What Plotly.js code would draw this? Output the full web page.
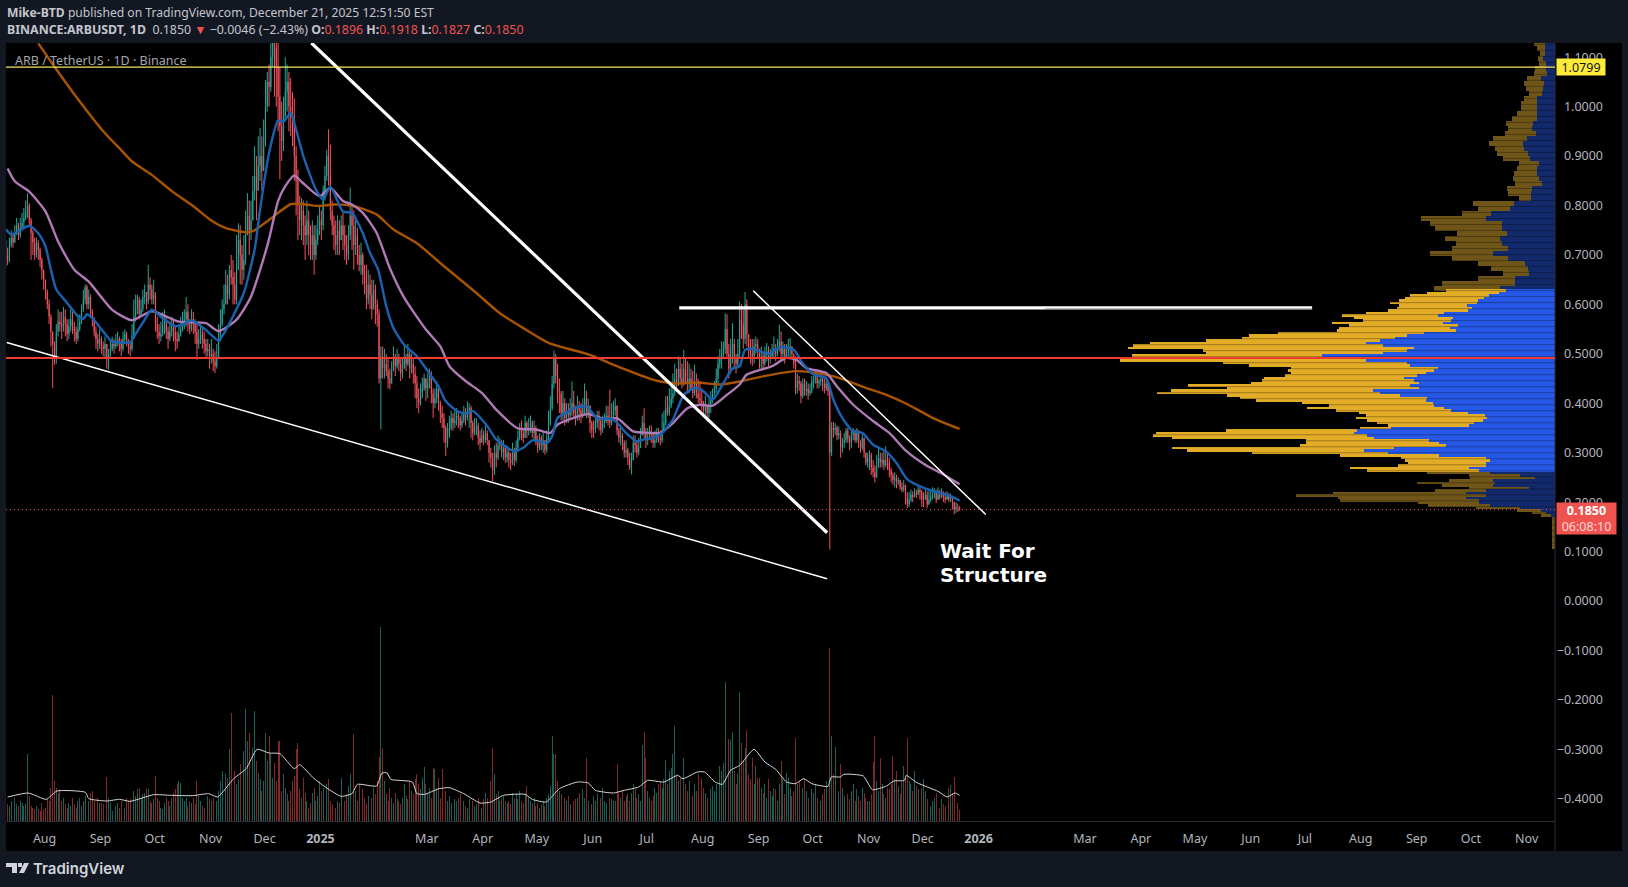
<!DOCTYPE html>
<html><head><meta charset="utf-8">
<script src="https://cdn.plot.ly/plotly-3.0.1.min.js"></script>
<style>html,body{margin:0;padding:0;background:#131722;overflow:hidden}#c{width:1628px;height:887px}</style>
</head><body><div id="c"></div>
<script>
// ---------- daily candles, Jul 10 2024 .. Dec 21 2025 (each open is the prior close)
const closes=[
.700,.690,.720,.735,.725,.745,.760,.740,.755,.765,.775,.785,.800,.770,.745,.725,.700,.725,.710,.690,.670,.650,
.625,.600,.575,.545,.520,.490,.545,.565,.560,.555,.575,.560,.540,.555,.570,.555,.545,.530,.550,.565,.590,.610,.635,.600,.615,.585,.570,.545,.530,.520,.530,
.515,.510,.520,.490,.500,.510,.520,.515,.525,.530,.520,.510,.530,.540,.525,.515,.510,.535,.575,.590,.610,.580,.590,.615,.625,.605,.640,.630,.610,.620,
.560,.545,.535,.540,.560,.565,.545,.530,.545,.555,.545,.530,.525,.540,.550,.565,.570,.585,.560,.550,.570,.565,.545,.520,.530,.540,.530,.520,.505,.510,.495,
.500,.485,.475,.490,.530,.560,.590,.600,.640,.620,.670,.655,.640,.610,.680,.730,.700,.670,.690,.740,.780,.750,.770,.830,.860,.830,.880,.900,.870,.920,
1.00,1.05,1.04,1.10,1.18,1.12,1.08,1.02,.960,.930,.980,1.03,1.05,1.00,.990,.970,.900,.850,.800,.770,.790,.760,.740,.770,.740,.720,.740,.700,.730,.750,.770,
.760,.830,.860,.900,.860,.790,.760,.740,.720,.750,.730,.760,.740,.720,.700,.740,.780,.760,.720,.740,.700,.680,.700,.660,.640,.610,.640,.620,.590,.630,.600,
.580,.450,.490,.470,.480,.465,.450,.440,.465,.490,.475,.490,.480,.460,.470,.490,.480,.500,.470,.480,.460,.440,.410,.400,.420,.430,.450,.430,
.440,.455,.420,.400,.410,.430,.400,.380,.370,.350,.320,.335,.350,.370,.360,.365,.375,.370,.355,.365,.380,.370,.385,.390,.360,.340,.350,.355,.330,.320,.335,
.325,.340,.325,.300,.290,.265,.300,.290,.315,.320,.300,.310,.290,.300,.285,.280,.300,.285,.310,.330,.345,.340,.330,.360,.345,.350,.360,.340,.350,.325,
.310,.330,.315,.325,.305,.330,.360,.390,.440,.490,.455,.420,.420,.380,.400,.370,.385,.375,.390,.400,.380,.370,.395,.385,.375,.390,.410,.380,.395,.360,.345,
.345,.360,.375,.365,.345,.360,.365,.375,.370,.360,.375,.385,.395,.345,.330,.335,.320,.300,.305,.290,.270,.285,.320,.315,.300,.310,.335,.360,.340,.325,
.330,.345,.335,.320,.325,.340,.330,.325,.345,.360,.390,.380,.395,.410,.420,.450,.440,.470,.450,.440,.470,.450,.440,.450,.430,.420,.440,.420,.410,.405,.400,
.385,.395,.380,.395,.410,.420,.430,.450,.480,.490,.500,.510,.550,.500,.470,.510,.520,.490,.480,.500,.570,.560,.530,.600,.540,.510,.500,.495,.515,.520,.510,
.490,.495,.480,.500,.505,.490,.495,.505,.510,.500,.515,.525,.500,.510,.495,.505,.510,.515,.500,.480,.430,.445,.440,.415,.440,.425,.430,.420,.425,.445,
.450,.460,.440,.445,.450,.440,.430,.440,.425,.300,.350,.345,.350,.335,.340,.310,.320,.325,.345,.330,.320,.335,.345,.325,.345,.320,.310,.330,.300,.280,.290,
.295,.270,.260,.250,.270,.290,.280,.285,.275,.285,.280,.265,.255,.245,.250,.240,.245,.230,.225,.235,.210,.195,.205,.215,.210,.220,.215,.225,.220,.205,
.205,.215,.195,.205,.210,.215,.220,.205,.215,.210,.220,.210,.205,.215,.205,.210,.200,.185,.190,.1896,.1850];
const highs=[
.730,.715,.735,.750,.745,.760,.775,.765,.775,.785,.795,.810,.825,.805,.775,.750,.735,.735,.730,.715,.695,.670,
.650,.630,.610,.580,.545,.525,.560,.590,.585,.585,.595,.590,.570,.570,.590,.585,.565,.555,.575,.580,.600,.630,.640,.640,.630,.620,.590,.575,.555,.540,.550,
.535,.525,.535,.520,.510,.530,.535,.530,.540,.545,.535,.530,.545,.550,.545,.530,.525,.560,.610,.620,.620,.615,.610,.630,.640,.625,.680,.655,.640,.650,
.625,.575,.560,.565,.585,.590,.575,.555,.565,.575,.570,.555,.545,.560,.575,.585,.590,.615,.600,.570,.590,.585,.570,.560,.550,.560,.555,.545,.530,.530,.520,
.530,.510,.505,.520,.560,.590,.610,.640,.670,.660,.680,.700,.690,.665,.740,.764,.760,.720,.740,.790,.825,.810,.810,.860,.920,.900,.940,.957,.940,.974,
1.054,1.07,1.085,1.16,1.25,1.25,1.20,1.22,1.08,1.01,1.02,1.10,1.085,1.07,1.058,1.03,1.017,.920,.873,.820,.815,.810,.780,.810,.790,.760,.770,.760,.760,.780,.800,
.790,.840,.880,.913,.954,.923,.810,.780,.770,.780,.770,.780,.785,.760,.740,.760,.836,.800,.790,.770,.755,.720,.725,.705,.680,.680,.670,.660,.650,.650,.640,
.610,.590,.515,.515,.510,.500,.490,.470,.485,.515,.500,.510,.500,.490,.490,.515,.500,.520,.505,.500,.490,.475,.455,.430,.440,.452,.460,.450,
.460,.470,.465,.430,.430,.445,.435,.405,.395,.380,.355,.360,.375,.385,.380,.385,.390,.385,.375,.380,.395,.390,.404,.400,.395,.365,.370,.370,.360,.345,.350,
.345,.355,.345,.325,.310,.300,.315,.320,.335,.330,.325,.325,.315,.315,.310,.300,.320,.310,.325,.345,.360,.365,.350,.375,.364,.370,.375,.365,.365,.355,
.335,.340,.335,.340,.325,.345,.385,.415,.455,.507,.500,.480,.450,.425,.425,.410,.400,.400,.410,.444,.425,.395,.415,.405,.400,.410,.440,.425,.410,.395,.365,
.365,.375,.385,.385,.370,.375,.380,.395,.395,.427,.400,.405,.410,.395,.350,.350,.340,.325,.325,.310,.300,.300,.335,.335,.325,.330,.350,.375,.390,.350,
.350,.355,.355,.340,.345,.350,.350,.345,.380,.385,.414,.415,.430,.440,.460,.480,.470,.495,.490,.480,.508,.490,.485,.480,.470,.465,.478,.460,.450,.445,.430,
.405,.415,.395,.410,.425,.430,.445,.470,.495,.510,.525,.525,.582,.580,.520,.530,.562,.530,.500,.530,.606,.600,.590,.625,.610,.540,.530,.530,.530,.535,.530,
.510,.515,.505,.515,.522,.515,.510,.520,.535,.520,.530,.559,.545,.525,.520,.520,.530,.532,.515,.500,.495,.460,.455,.445,.450,.450,.445,.440,.440,.455,
.455,.465,.460,.450,.462,.455,.450,.450,.440,.434,.362,.362,.360,.355,.353,.345,.330,.340,.350,.350,.335,.345,.350,.340,.350,.340,.325,.340,.330,.300,.300,
.305,.300,.285,.275,.295,.313,.300,.300,.305,.313,.300,.290,.270,.260,.260,.255,.250,.245,.240,.245,.235,.220,.220,.225,.222,.228,.225,.232,.230,.225,
.220,.225,.222,.222,.225,.230,.228,.225,.230,.225,.228,.222,.220,.222,.218,.218,.212,.200,.200,.197,.1918];
const lows=[
.675,.680,.685,.715,.715,.725,.740,.730,.735,.750,.755,.770,.775,.760,.690,.700,.690,.695,.690,.675,.650,.630,
.610,.590,.560,.515,.431,.478,.480,.535,.545,.530,.545,.535,.525,.530,.545,.540,.525,.520,.525,.545,.560,.585,.600,.590,.590,.575,.555,.535,.510,.505,.510,
.500,.495,.490,.470,.468,.490,.505,.500,.510,.515,.505,.495,.505,.525,.515,.500,.495,.505,.530,.565,.580,.570,.575,.585,.600,.590,.600,.610,.600,.600,
.545,.530,.520,.525,.535,.540,.530,.510,.525,.535,.525,.505,.510,.525,.535,.545,.550,.555,.545,.540,.545,.540,.520,.488,.510,.520,.510,.500,.490,.495,.470,
.480,.465,.461,.470,.490,.525,.555,.580,.600,.600,.610,.640,.600,.600,.600,.670,.640,.640,.650,.680,.740,.700,.730,.770,.810,.770,.830,.850,.830,.870,
.950,.990,1.00,1.03,1.08,1.02,1.00,.950,.853,.890,.910,.970,.990,.950,.940,.920,.850,.780,.730,.740,.730,.720,.690,.720,.700,.690,.690,.660,.690,.720,.740,
.730,.750,.810,.850,.840,.770,.740,.710,.700,.700,.700,.730,.710,.690,.680,.690,.730,.710,.670,.700,.680,.667,.660,.640,.620,.590,.600,.590,.570,.590,.560,
.555,.440,.347,.450,.450,.455,.430,.428,.440,.465,.455,.470,.465,.445,.450,.470,.465,.475,.450,.460,.440,.410,.390,.380,.395,.410,.425,.405,
.410,.430,.400,.370,.390,.400,.385,.360,.350,.320,.293,.310,.330,.345,.345,.350,.355,.350,.345,.350,.360,.355,.365,.350,.330,.325,.335,.335,.315,.305,.320,
.315,.320,.315,.280,.270,.242,.255,.270,.285,.305,.290,.285,.280,.280,.270,.265,.275,.273,.280,.305,.325,.325,.320,.330,.330,.335,.340,.330,.325,.315,
.300,.305,.305,.300,.296,.300,.325,.355,.385,.430,.440,.400,.380,.365,.365,.355,.360,.360,.370,.375,.370,.355,.365,.365,.360,.370,.375,.370,.370,.340,.330,
.330,.340,.350,.345,.335,.340,.350,.360,.355,.350,.355,.370,.375,.335,.320,.315,.305,.290,.290,.275,.265,.256,.285,.300,.290,.295,.310,.335,.330,.310,
.315,.325,.320,.310,.310,.320,.320,.315,.320,.340,.355,.375,.375,.390,.400,.415,.425,.435,.440,.430,.435,.440,.420,.420,.425,.410,.415,.410,.400,.395,.385,
.380,.375,.363,.370,.380,.400,.415,.420,.440,.470,.470,.490,.500,.490,.450,.460,.480,.470,.460,.470,.490,.530,.510,.520,.515,.490,.480,.475,.480,.500,.490,
.470,.470,.470,.475,.485,.475,.480,.490,.490,.485,.495,.505,.490,.485,.480,.490,.495,.490,.490,.470,.418,.420,.425,.400,.410,.415,.415,.407,.415,.420,
.430,.440,.430,.430,.435,.425,.420,.425,.415,.104,.293,.330,.335,.325,.327,.290,.300,.310,.320,.320,.305,.310,.325,.320,.320,.310,.300,.305,.290,.275,.270,
.265,.255,.250,.240,.250,.270,.270,.270,.265,.270,.265,.250,.240,.235,.230,.228,.235,.225,.220,.220,.195,.188,.190,.200,.200,.210,.208,.215,.205,.190,
.190,.205,.188,.195,.200,.205,.208,.198,.205,.205,.208,.200,.198,.205,.200,.200,.185,.175,.178,.180,.1827];
const volumes=[
40,50,45,60,55,70,50,45,60,55,45,50,202,75,45,40,35,45,35,30,55,35,
40,65,60,100,379,120,100,85,95,60,70,50,40,55,45,70,50,40,60,70,45,60,75,55,60,85,90,60,50,70,55,
55,50,60,132,70,55,30,35,45,55,40,60,55,40,70,60,65,80,90,75,95,100,70,80,85,100,95,60,55,65,
135,70,60,40,35,55,70,60,45,70,85,95,110,120,115,70,60,70,45,60,55,70,50,120,75,60,45,40,55,75,65,
60,70,50,60,90,120,150,125,140,130,215,325,259,150,110,125,170,195,210,337,240,264,160,220,330,180,145,125,90,120,
264,180,255,200,130,175,120,241,241,90,140,100,80,60,90,120,135,217,234,95,70,130,85,60,40,55,85,100,60,75,120,
90,100,70,110,125,60,50,75,40,60,55,130,80,60,80,105,140,279,262,90,60,110,80,95,70,50,75,147,70,100,80,
120,192,582,219,120,80,60,100,70,55,85,65,60,50,70,110,75,65,120,90,80,125,140,110,95,130,162,110,
85,100,70,160,157,100,130,70,157,85,90,60,75,55,45,65,60,70,80,50,60,45,40,65,30,60,45,50,70,55,40,
65,85,70,100,120,219,142,80,90,60,65,75,60,55,60,50,85,70,80,65,90,60,55,85,105,75,60,50,70,45,
55,40,50,60,45,70,80,105,255,202,202,120,90,80,110,70,60,75,50,80,60,65,70,85,60,95,70,189,60,70,50,
75,60,80,65,70,100,60,55,45,70,65,60,60,172,85,70,90,60,75,80,60,85,110,95,70,80,60,229,267,189,
90,70,60,75,100,85,110,120,100,125,184,110,150,160,202,285,140,120,130,199,190,110,90,120,100,75,110,90,140,172,130,
100,85,70,60,95,105,90,110,140,165,150,175,417,334,247,244,267,150,110,140,387,235,180,219,274,140,125,189,110,165,130,
130,100,85,110,70,125,90,75,100,95,60,110,180,125,80,145,130,100,75,90,250,110,120,297,100,130,90,70,60,95,
85,110,70,100,60,80,95,120,90,519,256,140,222,120,90,170,100,75,110,80,65,90,110,60,95,75,60,100,85,70,60,
60,80,177,254,120,90,190,110,80,70,100,95,110,195,125,150,105,80,120,165,130,250,120,110,90,150,105,95,85,100,
127,90,65,75,45,60,70,85,55,40,65,50,45,60,100,109,85,132,70,55,34];

// ---------- moving averages: candle index / value
const fastIdx=[0,3,7,13,18,22,25,28,34,40,43,45,48,54,59,69,73,77,81,87,94,98,103,106,112,118,122,126,132,138,141,146,151,154,158,160,165,172,176,180,187,192,198,202,206.5,211,215,221,228,234,240,244,250,255,259,267,272,282,287,292,300,303,306,311,316,322,328,337,344,350,354,359,364,370,376,382,387,392,398,403,407,410,414,423,430,437,442,448,455,459,464,470,475,481,488,494,500,509,518,524,529];
const fastVal=[.752,.741,.748,.759,.744,.717,.670,.630,.603,.576,.571,.580,.572,.545,.525,.524,.546,.569,.589,.572,.556,.559,.568,.562,.545,.527,.548,.576,.623,.711,.792,.906,.972,.970,.987,.967,.900,.832,.812,.838,.788,.785,.744,.704,.670,.596,.552,.518,.495,.465,.434,.404,.385,.379,.384,.354,.327,.303,.310,.325,.320,.333,.370,.381,.391,.394,.370,.367,.340,.323,.327,.330,.340,.367,.417,.431,.424,.407,.441,.470,.475,.508,.510,.500,.514,.508,.481,.458,.451,.407,.370,.343,.340,.316,.303,.279,.246,.229,.219,.212,.203];
const midIdx=[1,5,13,22,29,38,46,59,70,81,96,111,118,128,136,145.5,151,155,160,164,174,180,187,192,198,205.6,213,221,233,241,246,255,264,272,284,294,302,306,313,323,333,339,348,357,363,370,378,385,392,400,407,411,425,433,438.5,444,455,461,470,481,490,499.5,511,520,529];
const midVal=[.875,.849,.828,.788,.727,.670,.646,.589,.568,.586,.565,.562,.546,.569,.616,.725,.809,.839,.861,.848,.819,.836,.809,.802,.785,.745,.673,.613,.549,.515,.475,.445,.421,.387,.349,.347,.340,.357,.368,.378,.367,.370,.343,.340,.340,.360,.390,.397,.395,.417,.438,.458,.475,.492,.488,.471,.461,.434,.397,.364,.340,.303,.273,.256,.236];
const slowIdx=[18,27.5,39,55,64,70,81,92.4,103.5,114.6,122,133,137,146.4,158.4,174,181.5,192.6,205.6,214.8,227.8,244.4,261,274,287,301.7,323.9,336.8,357,363,372,383,396,407,422,438.5,451.4,462.5,477,488.4,499.5,514.3,529];
const slowVal=[1.128,1.078,1.020,.946,.912,.889,.862,.828,.800,.768,.754,.746,.748,.772,.803,.799,.802,.799,.782,.752,.724,.673,.623,.582,.552,.521,.498,.478,.450,.444,.440,.442,.438,.444,.456,.465,.460,.451,.431,.417,.399,.370,.348];
const volAvgIdx=[1,12.5,22.4,28.4,44.2,46,56,63,69,82,91.7,103.6,112.5,117.5,126.4,133.3,139.3,146,152,160,163,171,178,186,192,195,205.6,208.6,211.5,213.5,225.4,228,232.3,240.3,246,254,263,269,276,288,292,299.7,307,317,323,327,337,343,351,356,365,372.6,375.6,383.5,387.5,393.4,397.4,402,407,415,421,427,433,438,442.5,447,456,457.8,462.8,464.7,475.6,480.6,488.5,492.5,498.4,499.4,505.3,517,522,526.5,529];
const volAvgVal=[72,84,65,90,86,67,60,65,59,79,77,76,82,72,127,157,215,204,202,157,169,127,99,74,82,110,105,144,144,125,117,82,80,97,100,82,54,57,77,80,65,57,97,117,114,92,84,92,102,122,117,137,127,147,147,117,110,152,167,215,177,155,117,112,127,112,104,132,132,140,135,94,105,120,122,137,115,89,72,84,77];

// ---------- volume profile: up / down volume per row, from the top of the chart to the bottom
const profTopUp=[30,30,30,34,27,27,24,42,32,34,37,52,54,54,54,52,64,67,57,82,94,90,80,74,47,54,52,47,37,67,72,72,122,132,187,204,157,157,142,162,157,137,182,137,87,80,77,117,117,162];
const profTopDown=[32,22,14,16,20,33,38,40,60,50,40,40,46,46,58,75,81,70,90,100,100,87,90,78,60,58,68,77,80,73,65,35,120,95,85,190,210,195,145,160,135,165,185,165,140,107,75,110,215,195];
const profMidUp=[145,165,195,210,225,230,260,245,255,325,345,300,305,330,285,310,290,385,435,470,515,555,505,415,435,505,685,590,555,435,425,345,355,380,405,445,415,400,425,400,535,515,455,375,380,360,355,325,305,255,205,200,212,237,252,482,582,592,552,532,370,342,320,472,562,492,342,202,192,202,202,252,222];
const profMidDown=[175,210,230,230,235,255,200,220,235,230,280,290,260,325,320,325,350,430,465,450,510,635,735,840,600,520,560,715,725,540,475,430,430,395,390,410,445,495,655,565,595,655,510,550,500,385,310,405,340,320,350,385,340,285,240,90,385,580,630,595,362,390,430,655,520,400,290,250,250,230,260,350,330];
const profLowUp=[192,102,60,182,177,182,77,202,262,202,262,222,222,192,102,42,27,12,0,0,0,0,0,0,0,0,0,0,0,0,0];
const profLowDown=[185,150,190,130,230,150,175,150,390,560,375,410,180,180,130,70,40,30,10,10,10,10,10,10,10,10,10,10,10,10,10];
const profTopFirst=1.128, profTopStep=0.0101, profMidFirst=0.6277, profRowStep=0.00505;

// ---------- drawings
const thickTrendDates=['2024-12-27','2025-10-09'], thickTrendPrices=[1.1287,.138];
const lowTrendDates=['2024-07-11','2025-10-09'], lowTrendPrices=[.523,.045];
const upperTrendDates=['2025-08-29','2026-01-05'], upperTrendPrices=[.6276,.175];
const levelDates=['2025-07-19','2026-07-05'], levelPrices=[.593,.593];
const redLevel=.4915, yellowLevel=1.0799, lastPrice=.1850;

const priceTicks=[1.1,1,.9,.8,.7,.6,.5,.4,.3,.2,.1,0,-.1,-.2,-.3,-.4];
const timeTickDates=['2024-08-01','2024-09-01','2024-10-01','2024-11-01','2024-12-01','2025-01-01','2025-03-01','2025-04-01','2025-05-01','2025-06-01','2025-07-01','2025-08-01','2025-09-01','2025-10-01','2025-11-01','2025-12-01','2026-01-01','2026-03-01','2026-04-01','2026-05-01','2026-06-01','2026-07-01','2026-08-01','2026-09-01','2026-10-01','2026-11-01'];
const timeTickLabels=['Aug','Sep','Oct','Nov','Dec','<b>2025</b>','Mar','Apr','May','Jun','Jul','Aug','Sep','Oct','Nov','Dec','<b>2026</b>','Mar','Apr','May','Jun','Jul','Aug','Sep','Oct','Nov'];

// ---------- derived
const firstDay=Date.UTC(2024,6,10,12), DAY=864e5;
const iso=ms=>new Date(ms).toISOString().slice(0,19).replace('T',' ');
const dateAt=i=>iso(firstDay+i*DAY);
const dates=closes.map((_,i)=>dateAt(i));
const opens=closes.map((c,i)=>i?closes[i-1]:c);
const volColors=closes.map((c,i)=>c>=opens[i]?'#17615a':'#7f2a29');
const rows=(n,first,step)=>Array.from({length:n},(_,i)=>first-i*step);
const W=1606, H=778, PLOT_R=1555;
const px=x=>(x-6)/W, py=y=>1-(y-43)/H;
const dom=[0,px(PLOT_R)];

const topY=rows(profTopUp.length,profTopFirst,profTopStep);
const midY=rows(profMidUp.length,profMidFirst,profRowStep);
const lowY=rows(profLowUp.length,profMidFirst-profMidUp.length*profRowStep,profRowStep);
const bar=(x,y,color,width)=>({type:'bar',orientation:'h',x,y,width,xaxis:'x2',yaxis:'y',marker:{color,line:{width:0}},hoverinfo:'skip'});
const line=(xs,ys,color,width)=>({type:'scatter',mode:'lines',x:xs,y:ys,line:{color,width,simplify:false},hoverinfo:'skip'});
const avg=(xs,ys,color,width)=>({type:'scatter',mode:'lines',x:xs,y:ys,line:{color,width,shape:'spline',smoothing:.6,simplify:false},hoverinfo:'skip'});
const stripeX=[],stripeY=[];
for(let v=1.126;v>.11;v-=.01215){stripeX.push(0,1500,null);stripeY.push(v,v,null);}

const traces=[
 {type:'candlestick',x:dates,open:opens,high:highs,low:lows,close:closes,whiskerwidth:0,
  increasing:{line:{color:'#26a69a',width:1},fillcolor:'#26a69a'},
  decreasing:{line:{color:'#f7525f',width:1},fillcolor:'#f7525f'},hoverinfo:'skip'},
 avg(slowIdx.map(dateAt),slowVal,'#a85400',2.4),
 avg(midIdx.map(dateAt),midVal,'#b07ab5',2.4),
 avg(fastIdx.map(dateAt),fastVal,'#1a62b0',2.4),
 line(thickTrendDates,thickTrendPrices,'#ffffff',3.2),
 line(lowTrendDates,lowTrendPrices,'#ffffff',1.5),
 line(upperTrendDates,upperTrendPrices,'#ffffff',1.5),
 line(levelDates,levelPrices,'#ffffff',3.2),
 {type:'bar',x:dates,y:volumes,yaxis:'y2',width:DAY*.5,marker:{color:volColors,line:{width:0}},hoverinfo:'skip'},
 {type:'scatter',mode:'lines',x:volAvgIdx.map(dateAt),y:volAvgVal,yaxis:'y2',line:{color:'#d6d6d6',width:1,shape:'spline',smoothing:.5},hoverinfo:'skip'},
 bar(profTopUp,topY,'#12296c',profTopStep),
 bar(profTopDown,topY,'#6f5618',profTopStep),
 bar(profMidUp,midY,'#2558e6',profRowStep),
 bar(profMidDown,midY,'#e3ac27',profRowStep),
 bar(profLowUp,lowY,'#12296c',profRowStep),
 bar(profLowDown,lowY,'#6f5618',profRowStep),
 {type:'scatter',mode:'lines',x:stripeX,y:stripeY,xaxis:'x2',yaxis:'y',line:{color:'rgba(0,0,0,.3)',width:1},hoverinfo:'skip'}
];

const hdr={family:'"Noto Sans",sans-serif',size:12.15,color:'#c3c6ce'};
const hdr2={family:'"Noto Sans",sans-serif',size:12.37,color:'#c3c6ce'};
const note=(text,x,y,font,extra)=>Object.assign({text,x:px(x),y:py(y),xref:'paper',yref:'paper',xanchor:'left',yanchor:'middle',showarrow:false,font,align:'left'},extra||{});
const red='#ef5350';
const annotations=[
 note('<b>Mike-BTD</b> published on TradingView.com, December 21, 2025 12:51:50 EST',4.5,12.5,hdr),
 note(`<b>BINANCE:ARBUSDT, 1D</b>  0.1850 <span style="color:${red}">▼</span> −0.0046 (−2.43%) <b>O:</b><span style="color:${red}">0.1896</span> <b>H:</b><span style="color:${red}">0.1918</span> <b>L:</b><span style="color:${red}">0.1827</span> <b>C:</b><span style="color:${red}">0.1850</span>`,4.5,30,hdr2),
 note('ARB / TetherUS · 1D · Binance',13,60.5,{family:'"Noto Sans",sans-serif',size:12.5,color:'#a3a6af'}),
 note('<b>Wait For</b>',938,551,{family:'"DejaVu Sans",sans-serif',size:20,color:'#ffffff'}),
 note('<b>Structure</b>',938,575,{family:'"DejaVu Sans",sans-serif',size:20,color:'#ffffff'}),
 note('TradingView',31,868,{family:'"Inter",sans-serif',size:15,weight:600,color:'#d1d4dc'}),
 {text:'1.0799',xref:'paper',yref:'y',x:dom[1],y:yellowLevel,xshift:1,xanchor:'left',yanchor:'middle',showarrow:false,bgcolor:'#fdeb3b',width:48,height:16,borderpad:0,font:{family:'"Noto Sans",sans-serif',size:12.5,color:'#131722'}},
 {text:'<b>0.1850</b><br><span style="color:#ffd6d4">06:08:10</span>',xref:'paper',yref:'y',x:dom[1],y:lastPrice,xshift:1,yshift:8,xanchor:'left',yanchor:'top',showarrow:false,bgcolor:'#ef5350',width:59,height:31,borderpad:0,font:{family:'"Noto Sans",sans-serif',size:12.5,color:'#ffffff'}}
];
const P=(x,y)=>px(x).toFixed(5)+','+py(y).toFixed(5);
const logo=pts=>({type:'path',xref:'paper',yref:'paper',layer:'above',fillcolor:'#d1d4dc',line:{width:0},path:'M'+pts.map(p=>P(p[0],p[1])).join(' L')+' Z'});
const shapes=[
 {type:'rect',xref:'paper',yref:'paper',x0:dom[1],x1:px(1622),y0:py(43),y1:py(851),fillcolor:'#000',line:{width:0},layer:'below'},
 {type:'rect',xref:'paper',yref:'paper',x0:0,x1:px(1622),y0:py(821),y1:py(851),fillcolor:'#000',line:{width:0},layer:'below'},
 {type:'line',xref:'paper',yref:'paper',x0:dom[1],x1:dom[1],y0:py(43),y1:py(851),line:{color:'#2a2e39',width:1},layer:'above'},
 {type:'line',xref:'paper',yref:'y',x0:0,x1:dom[1],y0:yellowLevel,y1:yellowLevel,line:{color:'#f5e663',width:1.2},layer:'above'},
 {type:'line',xref:'paper',yref:'y',x0:0,x1:dom[1],y0:redLevel,y1:redLevel,line:{color:'#f23b30',width:1.8},layer:'above'},
 {type:'line',xref:'paper',yref:'y',x0:0,x1:dom[1],y0:lastPrice,y1:lastPrice,line:{color:'#ef5350',width:1,dash:'1px,3px'},layer:'above'},
 logo([[6,863],[17,863],[17,873],[12,873],[12,867],[6,867]]),
 logo([[18,863],[22,863],[22,867],[18,867]]),
 logo([[24,863],[29,863],[24,873],[19,873]])
];

const layout={
 width:1628,height:887,autosize:false,showlegend:false,
 paper_bgcolor:'#131722',plot_bgcolor:'#000000',
 margin:{l:6,r:16,t:43,b:66,pad:0},
 barmode:'stack',bargap:0,boxgap:.85,
 xaxis:{type:'date',domain:dom,range:['2024-07-10 14:24','2026-11-16 17:00'],rangeslider:{visible:false},showgrid:false,zeroline:false,
  tickmode:'array',tickvals:timeTickDates,ticktext:timeTickLabels,ticks:'outside',ticklen:6,tickcolor:'rgba(0,0,0,0)',
  tickfont:{family:'"Noto Sans",sans-serif',size:12.5,color:'#b2b5be'},showline:true,linecolor:'#2a2e39',linewidth:1,fixedrange:true},
 xaxis2:{overlaying:'x',domain:dom,anchor:'y',range:[4554,0],visible:false,fixedrange:true},
 yaxis:{anchor:'free',position:px(1603),side:'left',range:[-.445,1.1287],showgrid:false,zeroline:false,tickmode:'array',tickvals:priceTicks,tickformat:'.4f',
  ticks:'',tickfont:{family:'"Noto Sans",sans-serif',size:12.5,color:'#b2b5be'},showline:false,fixedrange:true},
 yaxis2:{overlaying:'y',side:'right',range:[0,2334],visible:false,fixedrange:true},
 annotations,shapes
};
Plotly.newPlot('c',traces,layout,{staticPlot:true,displayModeBar:false});
</script></body></html>
